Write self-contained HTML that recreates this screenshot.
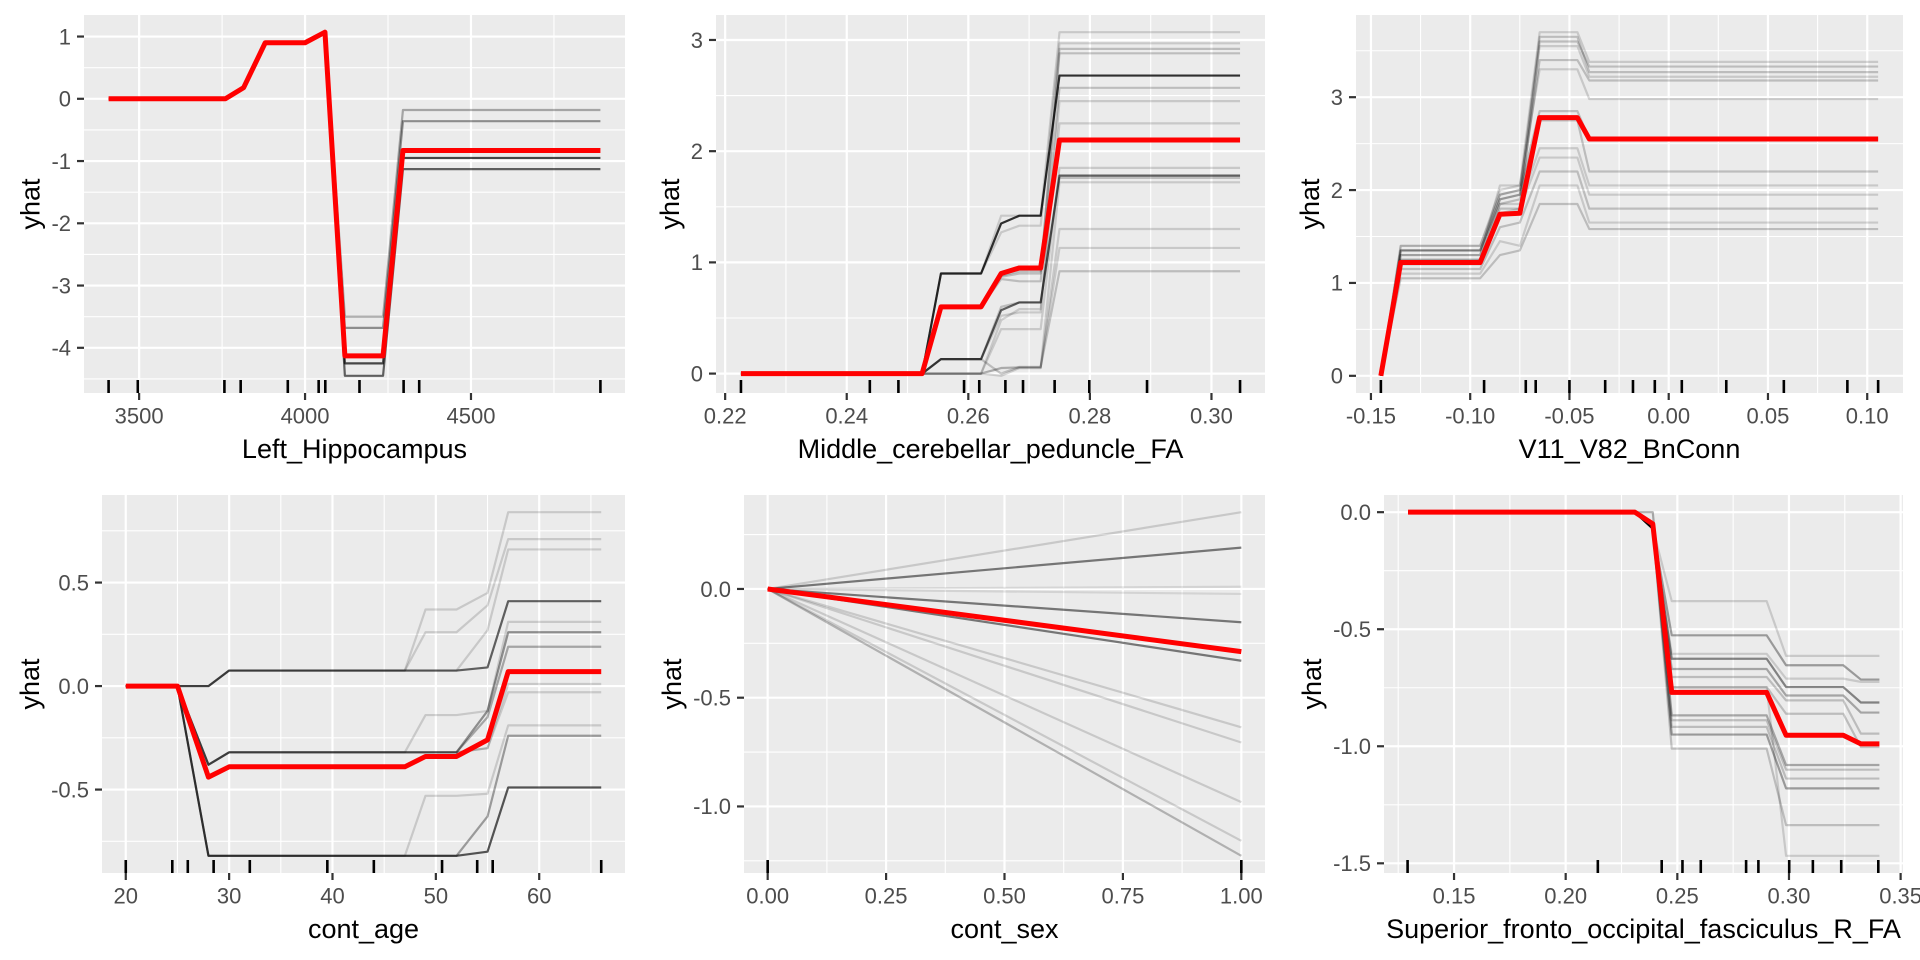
<!DOCTYPE html>
<html>
<head>
<meta charset="utf-8">
<style>
html,body{margin:0;padding:0;background:#fff;}
svg{display:block;}
text{font-family:"Liberation Sans",Arial,sans-serif;}
</style>
</head>
<body>
<svg id="chart" width="1920" height="960" viewBox="0 0 1920 960" xmlns="http://www.w3.org/2000/svg"></svg>
<script>
// ---------- Panel 1: Left_Hippocampus ----------
const p1X = [3408, 3760, 3815, 3880, 4000, 4060, 4120, 4235, 4295, 4890];
const p1Red = [0, 0, 0.18, 0.9, 0.9, 1.07, -4.13, -4.13, -0.83, -0.83];
const p1Ice = [
  [0, 0, 0.18, 0.9, 0.9, 1.07, -3.5, -3.5, -0.18, -0.18],
  [0, 0, 0.18, 0.9, 0.9, 1.07, -3.68, -3.68, -0.36, -0.36],
  [0, 0, 0.18, 0.9, 0.9, 1.07, -4.25, -4.25, -0.95, -0.95],
  [0, 0, 0.18, 0.9, 0.9, 1.07, -4.45, -4.45, -1.13, -1.13]
];
const p1Alpha = [0.3, 0.4, 0.7, 0.6];
const p1Rug = [3408, 3496, 3757, 3806, 3948, 4041, 4061, 4164, 4297, 4344, 4890];
const p1XTicks = [3500, 4000, 4500];
const p1XLabels = ["3500", "4000", "4500"];
const p1YTicks = [-4, -3, -2, -1, 0, 1];
const p1YLabels = ["-4", "-3", "-2", "-1", "0", "1"];

// ---------- Panel 2: Middle_cerebellar_peduncle_FA ----------
const p2X = [0.2226, 0.2524, 0.2555, 0.2621, 0.2654, 0.2684, 0.2719, 0.2750, 0.3047];
const p2Red = [0, 0, 0.6, 0.6, 0.9, 0.95, 0.95, 2.1, 2.1];
const p2Ice = [
  [0, 0, 0.9, 0.9, 1.35, 1.42, 1.42, 2.68, 2.68],
  [0, 0, 0.13, 0.13, 0.57, 0.64, 0.64, 1.78, 1.78],
  [0, 0, 0.9, 0.9, 1.42, 1.42, 1.42, 3.07, 3.07],
  [0, 0, 0.9, 0.9, 1.27, 1.33, 1.33, 2.97, 2.97],
  [0, 0, 0.6, 0.6, 0.88, 0.92, 0.92, 2.92, 2.92],
  [0, 0, 0.6, 0.6, 0.87, 0.9, 0.9, 2.88, 2.88],
  [0, 0, 0.6, 0.6, 0.85, 0.83, 0.83, 2.57, 2.57],
  [0, 0, 0.13, 0.13, 0.52, 0.55, 0.55, 2.45, 2.45],
  [0, 0, 0, 0, 0.48, 0.58, 0.58, 2.25, 2.25],
  [0, 0, 0, 0, 0.4, 0.4, 0.4, 1.85, 1.85],
  [0, 0, 0.13, 0.13, 0.6, 0.64, 0.64, 1.76, 1.76],
  [0, 0, 0, 0, 0.05, 0.05, 0.05, 1.72, 1.72],
  [0, 0, 0, 0, -0.02, 0.05, 0.05, 1.3, 1.3],
  [0, 0, 0, 0, 0.05, 0.06, 0.06, 1.13, 1.13],
  [0, 0, 0.13, 0.13, 0, 0.06, 0.06, 0.92, 0.92]
];
const p2Alpha = [0.8, 0.6, 0.15, 0.15, 0.2, 0.2, 0.2, 0.15, 0.15, 0.15, 0.2, 0.15, 0.15, 0.15, 0.2];
const p2Rug = [0.2226, 0.2438, 0.2485, 0.2593, 0.2618, 0.2661, 0.2690, 0.2742, 0.2799, 0.2894, 0.3047];
const p2XTicks = [0.22, 0.24, 0.26, 0.28, 0.30];
const p2XLabels = ["0.22", "0.24", "0.26", "0.28", "0.30"];
const p2YTicks = [0, 1, 2, 3];
const p2YLabels = ["0", "1", "2", "3"];

// ---------- Panel 3: V11_V82_BnConn ----------
const p3X = [-0.145, -0.135, -0.095, -0.085, -0.075, -0.065, -0.046, -0.040, 0.1055];
const p3Red = [0, 1.22, 1.22, 1.74, 1.75, 2.78, 2.78, 2.55, 2.55];
const p3Ice = [
  [0, 1.05, 1.05, 1.3, 1.35, 1.85, 1.85, 1.58, 1.58],
  [0, 1.1, 1.1, 1.45, 1.4, 2.05, 2.05, 1.65, 1.65],
  [0, 1.15, 1.15, 1.6, 1.65, 2.2, 2.2, 1.8, 1.8],
  [0, 1.2, 1.2, 1.75, 1.8, 2.35, 2.35, 1.95, 1.95],
  [0, 1.25, 1.25, 1.85, 1.85, 2.45, 2.45, 2.05, 2.05],
  [0, 1.3, 1.3, 1.9, 1.95, 2.75, 2.75, 2.2, 2.2],
  [0, 1.35, 1.35, 1.95, 2.0, 2.85, 2.85, 2.55, 2.55],
  [0, 1.3, 1.3, 2.05, 2.05, 3.3, 3.3, 2.98, 2.98],
  [0, 1.35, 1.35, 1.85, 1.9, 3.4, 3.4, 3.18, 3.18],
  [0, 1.4, 1.4, 1.95, 2.0, 3.55, 3.55, 3.22, 3.22],
  [0, 1.35, 1.35, 1.9, 1.95, 3.65, 3.65, 3.27, 3.27],
  [0, 1.4, 1.4, 2.0, 2.05, 3.7, 3.7, 3.38, 3.38],
  [0, 1.25, 1.25, 1.8, 1.8, 3.6, 3.6, 3.33, 3.33]
];
const p3Alpha = [0.2, 0.15, 0.2, 0.15, 0.15, 0.2, 0.2, 0.15, 0.2, 0.15, 0.2, 0.15, 0.2];
const p3Rug = [-0.145, -0.093, -0.072, -0.067, -0.050, -0.032, -0.018, -0.007, 0.0066, 0.029, 0.058, 0.090, 0.1055];
const p3XTicks = [-0.15, -0.10, -0.05, 0.00, 0.05, 0.10];
const p3XLabels = ["-0.15", "-0.10", "-0.05", "0.00", "0.05", "0.10"];
const p3YTicks = [0, 1, 2, 3];
const p3YLabels = ["0", "1", "2", "3"];

// ---------- Panel 4: cont_age ----------
const p4X = [20, 25, 28, 30, 47, 49, 52, 55, 57, 66];
const p4Red = [0, 0, -0.44, -0.39, -0.39, -0.34, -0.34, -0.26, 0.07, 0.07];
const p4Ice = [
  [0, 0, 0, 0.075, 0.075, 0.37, 0.37, 0.45, 0.84, 0.84],
  [0, 0, 0, 0.075, 0.075, 0.26, 0.26, 0.39, 0.71, 0.71],
  [0, 0, 0, 0.075, 0.075, 0.075, 0.075, 0.27, 0.66, 0.66],
  [0, 0, 0, 0.075, 0.075, 0.075, 0.075, 0.09, 0.41, 0.41],
  [0, 0, -0.38, -0.32, -0.32, -0.14, -0.14, -0.12, 0.31, 0.31],
  [0, 0, -0.38, -0.32, -0.32, -0.32, -0.32, -0.12, 0.26, 0.26],
  [0, 0, -0.38, -0.32, -0.32, -0.32, -0.32, -0.15, 0.19, 0.19],
  [0, 0, -0.38, -0.32, -0.32, -0.32, -0.32, -0.3, 0.01, 0.01],
  [0, 0, -0.38, -0.32, -0.32, -0.32, -0.32, -0.3, -0.03, -0.03],
  [0, 0, -0.82, -0.82, -0.82, -0.53, -0.53, -0.52, -0.19, -0.19],
  [0, 0, -0.82, -0.82, -0.82, -0.82, -0.82, -0.63, -0.24, -0.24],
  [0, 0, -0.82, -0.82, -0.82, -0.82, -0.82, -0.80, -0.49, -0.49]
];
const p4Alpha = [0.15, 0.15, 0.15, 0.6, 0.15, 0.4, 0.3, 0.15, 0.15, 0.15, 0.35, 0.65];
const p4Rug = [20, 24.5, 26, 28.5, 32, 39.5, 44, 50.6, 54, 55.5, 66];
const p4XTicks = [20, 30, 40, 50, 60];
const p4XLabels = ["20", "30", "40", "50", "60"];
const p4YTicks = [-0.5, 0, 0.5];
const p4YLabels = ["-0.5", "0.0", "0.5"];

// ---------- Panel 5: cont_sex ----------
const p5X = [0, 1];
const p5Red = [0, -0.288];
const p5Ice = [
  [0, 0.353], [0, 0.19], [0, 0.01], [0, -0.023], [0, -0.153], [0, -0.33],
  [0, -0.636], [0, -0.706], [0, -0.98], [0, -1.158], [0, -1.227]
];
const p5Alpha = [0.15, 0.5, 0.1, 0.1, 0.5, 0.5, 0.15, 0.15, 0.15, 0.15, 0.25];
const p5Rug = [0, 1];
const p5XTicks = [0, 0.25, 0.5, 0.75, 1];
const p5XLabels = ["0.00", "0.25", "0.50", "0.75", "1.00"];
const p5YTicks = [-1, -0.5, 0];
const p5YLabels = ["-1.0", "-0.5", "0.0"];

// ---------- Panel 6: Superior_fronto_occipital_fasciculus_R_FA ----------
const p6X = [0.1294, 0.231, 0.239, 0.2475, 0.29, 0.2987, 0.3243, 0.3322, 0.3405];
const p6Red = [0, 0, -0.05, -0.77, -0.77, -0.953, -0.953, -0.99, -0.99];
const p6Ice = [
  [0, 0, -0.07, -0.38, -0.38, -0.614, -0.614, -0.614, -0.614],
  [0, 0, -0.07, -0.526, -0.526, -0.654, -0.654, -0.715, -0.715],
  [0, 0, -0.07, -0.605, -0.605, -0.711, -0.711, -0.725, -0.725],
  [0, 0, -0.07, -0.626, -0.626, -0.747, -0.747, -0.813, -0.813],
  [0, 0, -0.07, -0.67, -0.67, -0.783, -0.783, -0.856, -0.856],
  [0, 0, -0.07, -0.704, -0.704, -0.804, -0.804, -0.946, -0.946],
  [0, 0, -0.07, -0.747, -0.747, -0.861, -0.861, -1.003, -1.003],
  [0, 0, 0, -0.868, -0.868, -1.08, -1.08, -1.08, -1.08],
  [0, 0, -0.07, -0.889, -0.889, -1.1, -1.1, -1.1, -1.1],
  [0, 0, -0.07, -0.917, -0.917, -1.138, -1.138, -1.138, -1.138],
  [0, 0, -0.07, -0.95, -0.95, -1.18, -1.18, -1.18, -1.18],
  [0, 0, -0.07, -1.01, -1.01, -1.337, -1.337, -1.337, -1.337],
  [0, 0, -0.07, -0.75, -0.75, -1.468, -1.468, -1.468, -1.468]
];
const p6Alpha = [0.15, 0.35, 0.15, 0.45, 0.3, 0.2, 0.2, 0.3, 0.2, 0.2, 0.35, 0.2, 0.15];
const p6Rug = [0.1292, 0.2144, 0.2430, 0.2523, 0.2605, 0.2808, 0.2863, 0.3001, 0.3107, 0.3234, 0.3400];
const p6XTicks = [0.15, 0.20, 0.25, 0.30, 0.35];
const p6XLabels = ["0.15", "0.20", "0.25", "0.30", "0.35"];
const p6YTicks = [-1.5, -1, -0.5, 0];
const p6YLabels = ["-1.5", "-1.0", "-0.5", "0.0"];

const NS = "http://www.w3.org/2000/svg";
const svg = document.getElementById("chart");

function mk(tag, attrs, parent) {
  const e = document.createElementNS(NS, tag);
  for (const k in attrs) e.setAttribute(k, attrs[k]);
  parent.appendChild(e);
  return e;
}

function padRange(vals, ticks) {
  const mn = Math.min.apply(null, vals), mx = Math.max.apply(null, vals);
  const d = (mx - mn) || 1;
  return [mn - 0.05 * d, mx + 0.05 * d];
}

function drawPanel(cfg) {
  const g = mk("g", {}, svg);
  
  

  // domains from data (ggplot-style 5% expansion)
  const allY = cfg.red.slice();
  cfg.ice.forEach(r => r.forEach(v => allY.push(v)));
  const allX = cfg.x.concat(cfg.rug);
  const xd = padRange(allX);
  const yd = padRange(allY);
  const L = cfg.left, R = cfg.right, T = cfg.top, B = cfg.bottom;
  const sx = v => L + (v - xd[0]) / (xd[1] - xd[0]) * (R - L);
  const sy = v => B - (v - yd[0]) / (yd[1] - yd[0]) * (B - T);

  const bg = mk("rect", {x: L, y: T, width: R - L, height: B - T, fill: "#EBEBEB"}, g);
  
  

  // minor gridlines
  const xStep = cfg.xTicks[1] - cfg.xTicks[0];
  const yStep = cfg.yTicks[1] - cfg.yTicks[0];
  const gridG = mk("g", {}, g);
  
  
  for (let k = -2; k <= cfg.xTicks.length + 1; k++) {
    const v = cfg.xTicks[0] + (k + 0.5) * xStep;
    const px = sx(v);
    if (px > L && px < R) mk("line", {x1: px, x2: px, y1: T, y2: B, stroke: "#fff", "stroke-width": 1.1}, gridG);
  }
  for (let k = -2; k <= cfg.yTicks.length + 1; k++) {
    const v = cfg.yTicks[0] + (k + 0.5) * yStep;
    const py = sy(v);
    if (py > T && py < B) mk("line", {x1: L, x2: R, y1: py, y2: py, stroke: "#fff", "stroke-width": 1.1}, gridG);
  }
  // major gridlines
  cfg.xTicks.forEach(v => {
    const px = sx(v);
    if (px >= L - 0.5 && px <= R + 0.5) mk("line", {x1: px, x2: px, y1: T, y2: B, stroke: "#fff", "stroke-width": 2.2}, gridG);
  });
  cfg.yTicks.forEach(v => {
    const py = sy(v);
    mk("line", {x1: L, x2: R, y1: py, y2: py, stroke: "#fff", "stroke-width": 2.2}, gridG);
  });

  // ICE lines
  const iceG = mk("g", {fill: "none", "stroke-linejoin": "round"}, g);
  
  
  cfg.ice.forEach((row, i) => {
    const d = row.map((v, j) => (j ? "L" : "M") + sx(cfg.x[j]).toFixed(2) + "," + sy(v).toFixed(2)).join("");
    const p = mk("path", {d: d, stroke: "#000", "stroke-opacity": cfg.alpha[i], "stroke-width": 2.2}, iceG);
    
    
  });

  // PDP red line
  const dRed = cfg.red.map((v, j) => (j ? "L" : "M") + sx(cfg.x[j]).toFixed(2) + "," + sy(v).toFixed(2)).join("");
  const red = mk("path", {d: dRed, stroke: "#FF0000", "stroke-width": 5, fill: "none", "stroke-linejoin": "round"}, g);
  
  

  // rug
  const rugG = mk("g", {}, g);
  
  
  cfg.rug.forEach(v => {
    const px = sx(v);
    const r = mk("line", {x1: px, x2: px, y1: B - 13, y2: B, stroke: "#000", "stroke-width": 2.6}, rugG);
    
    
  });

  // x axis
  const xa = mk("g", {}, g);
  
  
  cfg.xTicks.forEach((v, i) => {
    const px = sx(v);
    mk("line", {x1: px, x2: px, y1: B, y2: B + 7, stroke: "#333", "stroke-width": 2.2}, xa);
    const t = mk("text", {x: px, y: B + 30.5, "text-anchor": "middle", "font-size": 22, fill: "#4D4D4D"}, xa);
    t.textContent = cfg.xLabels[i];
    
    
  });
  const xt = mk("text", {x: (L + R) / 2, y: B + 65, "text-anchor": "middle", "font-size": 27, fill: "#000"}, g);
  xt.textContent = cfg.title;
  
  

  // y axis
  const ya = mk("g", {}, g);
  
  
  let maxW = 0;
  cfg.yTicks.forEach((v, i) => {
    const py = sy(v);
    mk("line", {x1: L - 7, x2: L, y1: py, y2: py, stroke: "#333", "stroke-width": 2.2}, ya);
    const t = mk("text", {x: L - 13, y: py + 7.8, "text-anchor": "end", "font-size": 22, fill: "#4D4D4D"}, ya);
    t.textContent = cfg.yLabels[i];
    
    
    try { maxW = Math.max(maxW, t.getComputedTextLength()); } catch (e) {}
  });
  if (!maxW) maxW = 20;
  const bx = L - 13 - maxW - 12;
  const cy = (T + B) / 2;
  const yt = mk("text", {x: bx, y: cy, "text-anchor": "middle", "font-size": 27, fill: "#000", transform: "rotate(-90 " + bx + " " + cy + ")"}, g);
  yt.textContent = "yhat";
  
  
}

const panels = [
  {name: "left-hippocampus", left: 84, right: 625, top: 15, bottom: 393, title: "Left_Hippocampus",
   x: p1X, red: p1Red, ice: p1Ice, alpha: p1Alpha, rug: p1Rug, xTicks: p1XTicks, xLabels: p1XLabels, yTicks: p1YTicks, yLabels: p1YLabels},
  {name: "middle-cerebellar", left: 716, right: 1265, top: 15, bottom: 393, title: "Middle_cerebellar_peduncle_FA",
   x: p2X, red: p2Red, ice: p2Ice, alpha: p2Alpha, rug: p2Rug, xTicks: p2XTicks, xLabels: p2XLabels, yTicks: p2YTicks, yLabels: p2YLabels},
  {name: "v11-v82", left: 1356, right: 1903, top: 15, bottom: 393, title: "V11_V82_BnConn",
   x: p3X, red: p3Red, ice: p3Ice, alpha: p3Alpha, rug: p3Rug, xTicks: p3XTicks, xLabels: p3XLabels, yTicks: p3YTicks, yLabels: p3YLabels},
  {name: "cont-age", left: 102, right: 625, top: 495, bottom: 873, title: "cont_age",
   x: p4X, red: p4Red, ice: p4Ice, alpha: p4Alpha, rug: p4Rug, xTicks: p4XTicks, xLabels: p4XLabels, yTicks: p4YTicks, yLabels: p4YLabels},
  {name: "cont-sex", left: 744, right: 1265, top: 495, bottom: 873, title: "cont_sex",
   x: p5X, red: p5Red, ice: p5Ice, alpha: p5Alpha, rug: p5Rug, xTicks: p5XTicks, xLabels: p5XLabels, yTicks: p5YTicks, yLabels: p5YLabels},
  {name: "superior-fronto-occipital", left: 1384, right: 1903, top: 495, bottom: 873, title: "Superior_fronto_occipital_fasciculus_R_FA",
   x: p6X, red: p6Red, ice: p6Ice, alpha: p6Alpha, rug: p6Rug, xTicks: p6XTicks, xLabels: p6XLabels, yTicks: p6YTicks, yLabels: p6YLabels}
];
panels.forEach(drawPanel);
</script>
</body>
</html>
